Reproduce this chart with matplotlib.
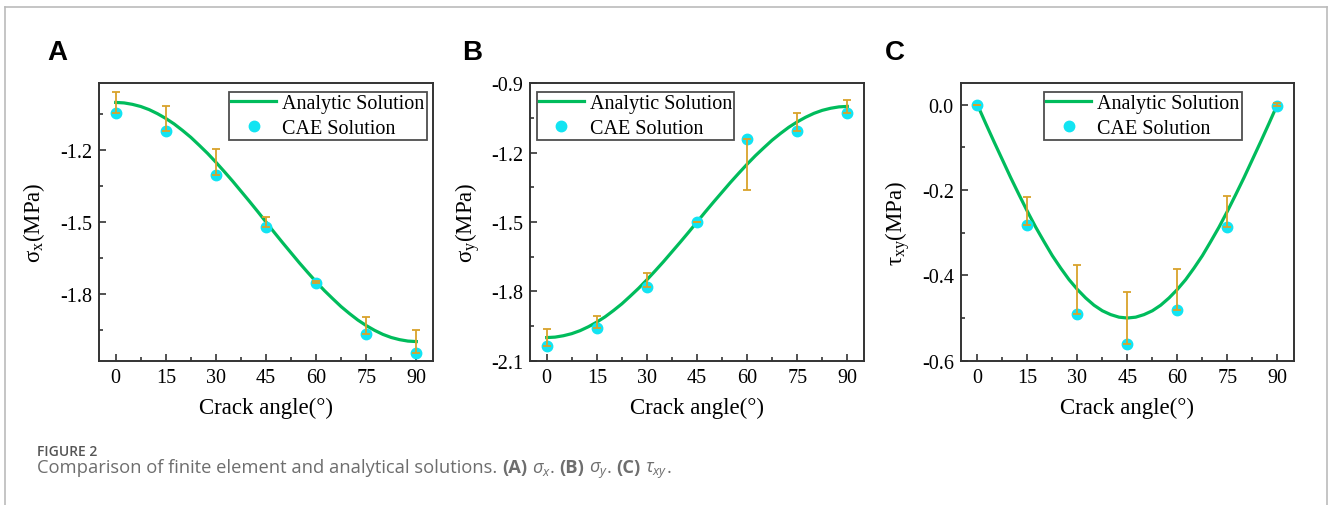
import matplotlib
matplotlib.use("Agg")
import matplotlib.pyplot as plt
from matplotlib.lines import Line2D
from matplotlib.ticker import MultipleLocator, FormatStrFormatter

plt.rcParams['font.family'] = ['Liberation Serif', 'DejaVu Serif']
plt.rcParams['mathtext.fontset'] = 'custom'
plt.rcParams['mathtext.rm'] = 'Liberation Serif'
plt.rcParams['mathtext.it'] = 'Open Sans:italic'

# crack angles of the CAE runs
angles = [0, 15, 30, 45, 60, 75, 90]
curve_angles = [0, 2.5, 5, 7.5, 10, 12.5, 15, 17.5, 20, 22.5, 25, 27.5, 30, 32.5, 35, 37.5,
                40, 42.5, 45, 47.5, 50, 52.5, 55, 57.5, 60, 62.5, 65, 67.5, 70, 72.5, 75,
                77.5, 80, 82.5, 85, 87.5, 90]

# analytic curves
sx_analytic = [-1.000, -1.002, -1.008, -1.017, -1.030, -1.047, -1.067, -1.090, -1.117, -1.146,
               -1.179, -1.213, -1.250, -1.289, -1.329, -1.371, -1.413, -1.456, -1.500, -1.544,
               -1.587, -1.629, -1.671, -1.711, -1.750, -1.787, -1.821, -1.854, -1.883, -1.910,
               -1.933, -1.953, -1.970, -1.983, -1.992, -1.998, -2.000]
sy_analytic = [-2.000, -1.998, -1.992, -1.983, -1.970, -1.953, -1.933, -1.910, -1.883, -1.854,
               -1.821, -1.787, -1.750, -1.711, -1.671, -1.629, -1.587, -1.544, -1.500, -1.456,
               -1.413, -1.371, -1.329, -1.289, -1.250, -1.213, -1.179, -1.146, -1.117, -1.090,
               -1.067, -1.047, -1.030, -1.017, -1.008, -1.002, -1.000]
txy_analytic = [0.000, -0.044, -0.087, -0.129, -0.171, -0.211, -0.250, -0.287, -0.321, -0.354,
                -0.383, -0.410, -0.433, -0.453, -0.470, -0.483, -0.492, -0.498, -0.500, -0.498,
                -0.492, -0.483, -0.470, -0.453, -0.433, -0.410, -0.383, -0.354, -0.321, -0.287,
                -0.250, -0.211, -0.171, -0.129, -0.087, -0.044, 0.000]

# CAE results
sx_cae = [-1.044, -1.119, -1.305, -1.522, -1.755, -1.970, -2.047]
sy_cae = [-2.038, -1.960, -1.780, -1.498, -1.139, -1.106, -1.027]
txy_cae = [0.000, -0.283, -0.490, -0.561, -0.482, -0.286, -0.003]

panels = [
    ("A", r"$\mathregular{\sigma_x}$(MPa)", sx_analytic, sx_cae, (-2.08, -0.92), [-1.2, -1.5, -1.8]),
    ("B", r"$\mathregular{\sigma_y}$(MPa)", sy_analytic, sy_cae, (-2.1, -0.9), [-0.9, -1.2, -1.5, -1.8, -2.1]),
    ("C", r"$\mathregular{\tau_{xy}}$(MPa)", txy_analytic, txy_cae, (-0.6, 0.05), [0.0, -0.2, -0.4, -0.6]),
]

W, H = 1328, 506
fig = plt.figure(figsize=(W / 100, H / 100), dpi=100)

# pixel boxes: left, right, top, bottom
boxes = [(99, 433, 84.3, 361.7), (530, 864, 84.3, 361.7), (960.7, 1294, 84.3, 361.7)]
letter_x = [47, 462, 885]
legend_x = [0.389, 0.02, 0.25]
ylabel_x = [-0.157, -0.145, -0.147]

green = '#00BC5C'
cyan = '#12E4F2'
gold = '#D9A22B'

for i, (letter, ylab, curve, cae, ylim, yt) in enumerate(panels):
    l, r, t, b = boxes[i]
    ax = fig.add_axes([l / W, (H - b) / H, (r - l) / W, (b - t) / H])

    ax.plot(curve_angles, curve, color=green, lw=2.3, zorder=2, label='Analytic Solution')
    ax.plot(angles, cae, 'o', color=cyan, ms=7.5, mec=cyan, zorder=3, label='CAE Solution')
    # error bars: spread between CAE and analytic value, centred on the analytic curve
    at_pts = [curve[curve_angles.index(a)] for a in angles]
    err = [abs(c - v) for c, v in zip(cae, at_pts)]
    ax.errorbar(angles, at_pts, yerr=err, fmt='none', ecolor=gold, elinewidth=1.3,
                capsize=3, capthick=1.3, zorder=4)

    ax.set_xlim(-5, 95)
    ax.set_ylim(*ylim)
    ax.set_xticks(angles)
    ax.xaxis.set_minor_locator(MultipleLocator(7.5))
    ax.set_yticks(yt)
    ax.yaxis.set_minor_locator(MultipleLocator(abs(yt[1] - yt[0]) / 2))
    ax.yaxis.set_major_formatter(FormatStrFormatter("%.1f"))
    ax.tick_params(which='both', direction='in', labelsize=14.5, pad=5, color='#333333', width=1.2)
    ax.tick_params(which='major', length=5)
    ax.tick_params(which='minor', length=3)
    for s in ax.spines.values():
        s.set_linewidth(1.4)
        s.set_color('#333333')

    ax.set_xlabel('Crack angle(°)', fontsize=16.5)
    ax.xaxis.set_label_coords(0.5, -0.131)
    ax.set_ylabel(ylab, fontsize=16.5)
    ax.yaxis.set_label_coords(ylabel_x[i], 0.5)

    leg = ax.legend(loc='upper left', bbox_to_anchor=(legend_x[i], 0.97), borderaxespad=0,
                    fontsize=14.5, frameon=True, fancybox=False, edgecolor='#222222',
                    handlelength=2.25, handletextpad=0.3, labelspacing=0.3, borderpad=0.1,
                    numpoints=1)
    leg.get_frame().set_linewidth(1.3)

    fig.text(letter_x[i] / W, 1 - 60.5 / H, letter, fontsize=20, fontweight='bold',
             family='Liberation Sans', ha='left', va='baseline')

# page frame
fig.add_artist(Line2D([5 / W, 5 / W], [0, 1 - 8 / H], color='#bbbbbb', lw=1.2))
fig.add_artist(Line2D([5 / W, 1326.5 / W], [1 - 8 / H, 1 - 8 / H], color='#bbbbbb', lw=1.2))
fig.add_artist(Line2D([1326.5 / W, 1326.5 / W], [0, 1 - 8 / H], color='#bbbbbb', lw=1.2))

# caption
fig.text(37 / W, 1 - 456.5 / H, 'FIGURE 2', fontsize=10, family='Open Sans', fontweight='semibold',
         color='#555555', va='baseline')

pieces = [
    ("Comparison of finite element and analytical solutions. ", 'normal'),
    ("(A)", 'bold'), (" ", 'normal'), (r"$\mathit{\sigma_x}$", 'normal'), (". ", 'normal'),
    ("(B)", 'bold'), (" ", 'normal'), (r"$\mathit{\sigma_y}$", 'normal'), (". ", 'normal'),
    ("(C)", 'bold'), (" ", 'normal'), (r"$\mathit{\tau_{xy}}$", 'normal'), (".", 'normal'),
]
renderer = fig.canvas.get_renderer()
x = 37
for txt, wt in pieces:
    tt = fig.text(x / W, 1 - 473 / H, txt, fontsize=13.2, family='Open Sans', fontweight=wt,
                  color='#6e6e6e', va='baseline')
    bb = tt.get_window_extent(renderer=renderer)
    x += bb.width - (1.5 if txt.startswith('$') else 0)

fig.savefig('out.png', dpi=100)
